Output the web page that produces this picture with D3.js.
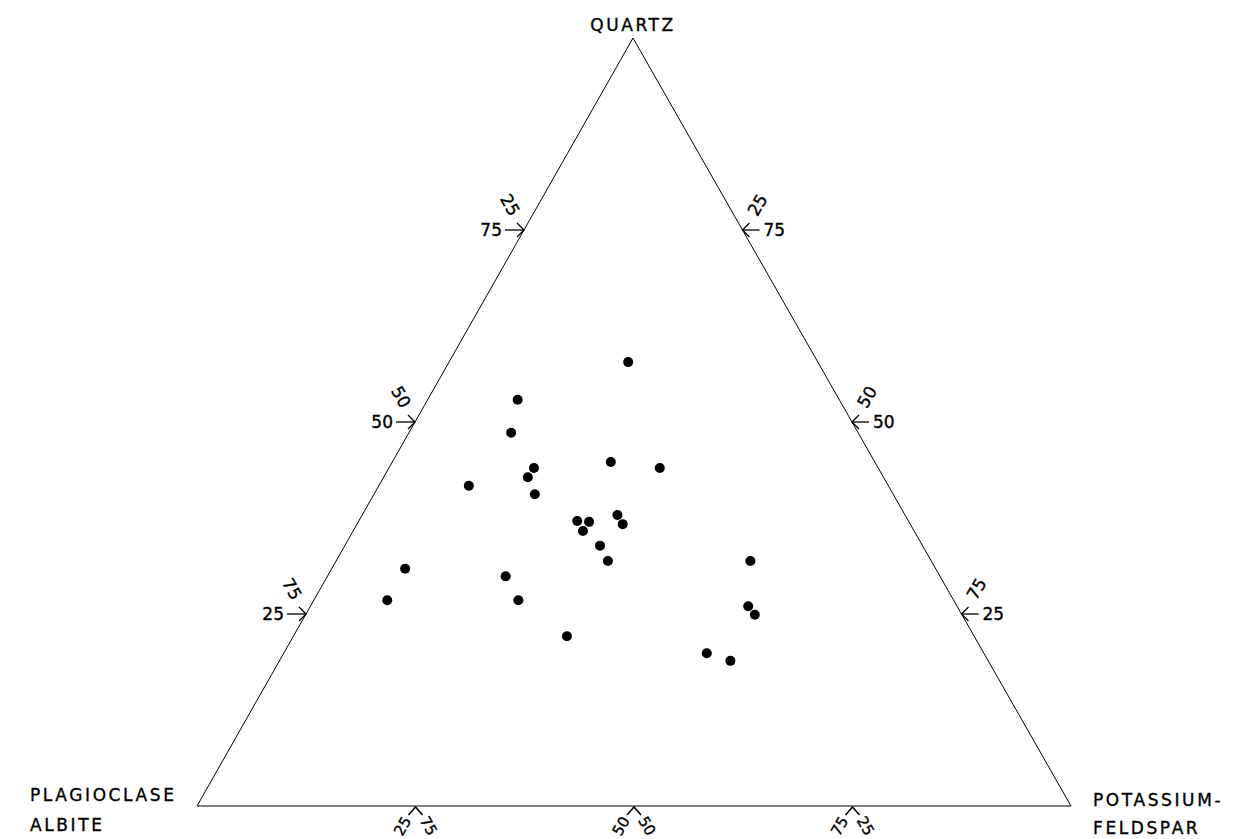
<!DOCTYPE html>
<html>
<head>
    <title></title>
    <meta charset="utf-8">
    <style>
        body { margin: 0; background: #fff; }
        text { font-family: "DejaVu Sans", sans-serif; fill: #000; stroke: #000; stroke-width: 0.35px; }
    </style>
</head>
<body>
<script src="https://d3js.org/d3.v7.min.js"></script>
<script>
    // sample compositions, percent (plagioclase = 100 - quartz - kspar)
    var quartz = [57.8, 52.9, 48.6, 44.8, 44.0, 44.0, 42.8, 41.7, 40.6, 37.9, 37.1, 37.0, 36.7,
                  35.8, 33.9, 31.9, 31.9, 30.9, 29.9, 26.8, 26.8, 26.0, 24.9, 22.1, 19.9, 18.9];
    var kspar  = [20.5, 10.3, 11.7, 25.0, 31.0, 16.6, 16.5, 10.3, 18.4, 29.2, 25.0, 26.4, 30.4,
                  26.3, 29.2, 47.4, 31.1, 8.4, 20.4, 8.4, 23.4, 50.1, 51.4, 31.3, 48.4, 51.6];
    var tickValues = [25, 50, 75];
    var cornerLabels = ['QUARTZ', 'PLAGIOCLASE', 'ALBITE', 'POTASSIUM-', 'FELDSPAR'];

    var W = 1236, H = 839;
    var svg = d3.select('body').append('svg')
        .attr('width', W)
        .attr('height', H);

    // triangle corners: apex = quartz, left = plagioclase, right = k-feldspar
    var A = [633, 38], L = [197, 806], R = [1071, 806];

    // barycentric scales
    var qScale = d3.scaleLinear().domain([0, 100]).range([0, 1]);
    function project(q, k) {
        var a = qScale(q), b = qScale(k), c = 1 - a - b;
        return [a * A[0] + b * R[0] + c * L[0], a * A[1] + b * R[1] + c * L[1]];
    }

    svg.append('path')
        .attr('d', 'M' + [A, L, R].map(function (p) { return p.join(','); }).join('L') + 'Z')
        .style('fill', 'none')
        .style('stroke', '#000')
        .style('stroke-width', 1);

    var fs = 17;

    // left side ticks (quartz along plag-quartz edge)
    tickValues.forEach(function (v) {
        var p = project(v, 0);
        var g = svg.append('g').attr('transform', 'translate(' + p[0] + ',' + p[1] + ')');
        g.append('line').attr('x1', -19).attr('y1', 0).attr('x2', 0).attr('y2', 0)
            .style('stroke', '#000').style('stroke-width', 1.3);
        g.append('path').attr('d', 'M-7,-7L0,0L-7,7')
            .style('fill', 'none').style('stroke', '#000').style('stroke-width', 1.3);
        g.append('text').attr('x', -22).attr('y', 6).attr('text-anchor', 'end')
            .style('font-size', fs + 'px').text(v);
        g.append('text').attr('transform', 'translate(-14,-25) rotate(60)')
            .attr('text-anchor', 'middle').attr('dy', '0.35em')
            .style('font-size', fs + 'px').text(100 - v);
    });

    // right side ticks
    tickValues.forEach(function (v) {
        var p = project(v, 100 - v);
        var g = svg.append('g').attr('transform', 'translate(' + p[0] + ',' + p[1] + ')');
        g.append('line').attr('x1', 0).attr('y1', 0).attr('x2', 17).attr('y2', 0)
            .style('stroke', '#000').style('stroke-width', 1.3);
        g.append('path').attr('d', 'M7,-7L0,0L7,7')
            .style('fill', 'none').style('stroke', '#000').style('stroke-width', 1.3);
        g.append('text').attr('x', 21).attr('y', 6).attr('text-anchor', 'start')
            .style('font-size', fs + 'px').text(v);
        g.append('text').attr('transform', 'translate(15,-25) rotate(-60)')
            .attr('text-anchor', 'middle').attr('dy', '0.35em')
            .style('font-size', fs + 'px').text(100 - v);
    });

    // bottom ticks (kept inside the frame)
    tickValues.forEach(function (v) {
        var p = project(0, v);
        var g = svg.append('g').attr('transform', 'translate(' + p[0] + ',' + (p[1] + 1) + ')');
        g.append('path').attr('d', 'M-7,8L0,0L7,8')
            .style('fill', 'none').style('stroke', '#000').style('stroke-width', 1.5);
        g.append('text').attr('transform', 'translate(-13,19) rotate(-60)')
            .attr('text-anchor', 'middle').attr('dy', '0.35em')
            .style('font-size', '15px').text(v);
        g.append('text').attr('transform', 'translate(13,19) rotate(60)')
            .attr('text-anchor', 'middle').attr('dy', '0.35em')
            .style('font-size', '15px').text(100 - v);
    });

    // corner labels
    function label(t, x, y, anchor) {
        svg.append('text').attr('x', x).attr('y', y).attr('text-anchor', anchor)
            .style('font-size', '17px').style('letter-spacing', '2.6px').text(t);
    }
    label(cornerLabels[0], 633, 31, 'middle');
    label(cornerLabels[1], 30, 801, 'start');
    label(cornerLabels[2], 30, 831, 'start');
    label(cornerLabels[3], 1093, 806, 'start');
    label(cornerLabels[4], 1093, 834, 'start');

    // samples
    var data = quartz.map(function (q, i) { return { q: q, k: kspar[i] }; });
    svg.selectAll('circle.pt').data(data).enter().append('circle')
        .attr('class', 'pt')
        .attr('cx', function (d) { return project(d.q, d.k)[0]; })
        .attr('cy', function (d) { return project(d.q, d.k)[1]; })
        .attr('r', 5)
        .style('fill', '#000');
</script>
</body>
</html>
